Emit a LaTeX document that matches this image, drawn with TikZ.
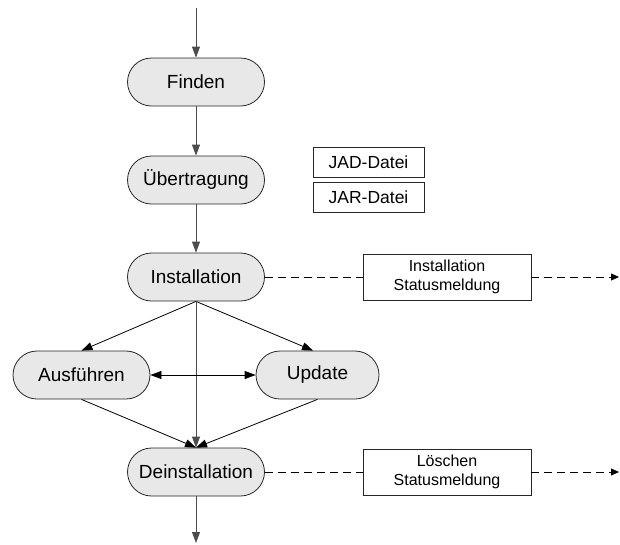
\documentclass[tikz,border=0pt]{standalone}
\usepackage{fontspec}
\setmainfont{Liberation Sans}
\usetikzlibrary{arrows.meta}
\begin{document}
\begin{tikzpicture}[x=1pt,y=-1pt,
  proc/.style={draw=black!85, fill=black!9, line width=0.8pt, rectangle, rounded corners=24pt,
    minimum width=137pt, minimum height=48pt, inner sep=0pt, font=\fontsize{19}{22}\selectfont},
  doc/.style={draw=black!85, fill=white, line width=0.8pt, rectangle, minimum width=111pt,
    minimum height=30pt, inner sep=0pt, font=\fontsize{17.5}{20}\selectfont},
  msg/.style={draw=black!85, fill=white, line width=0.8pt, rectangle, minimum width=168pt,
    minimum height=46pt, inner sep=0pt, align=center, font=\fontsize{16}{19}\selectfont},
  flow/.style={line width=0.8pt, -{Triangle[length=11pt,width=8pt]}},
  gflow/.style={flow, draw=black!70},
  dline/.style={line width=0.8pt, dash pattern=on 8pt off 5pt},
  dflow/.style={dline, -{Triangle[length=8pt,width=7pt]}}
]
\useasboundingbox (0,0) rectangle (620,544);
\node[proc] (find) at (196,82) {Finden};
\node[proc] (uebt) at (196,180) {Übertragung};
\node[proc] (inst) at (196,277) {Installation};
\node[proc] (ausf) at (81.5,375) {Ausführen};
\node[proc, minimum width=123pt] (upd) at (317.5,375) {Update};
\node[proc] (dein) at (196,472) {Deinstallation};
\node[doc] (jad) at (368.5,162) {JAD-Datei};
\node[doc] (jar) at (368.5,197.5) {JAR-Datei};
\node[msg] (imsg) at (447,277) {Installation\\Statusmeldung};
\node[msg] (lmsg) at (447,472) {Löschen\\Statusmeldung};
\coordinate (top) at (196,8);
\coordinate (bot) at (196,543);
\coordinate (iend) at (619,277);
\coordinate (lend) at (619,472);

\draw[gflow] (top) -- (find);
\draw[gflow] (find) -- (uebt);
\draw[gflow] (uebt) -- (inst);
\draw[flow] (inst.south) -- (ausf.north);
\draw[flow] (inst.south) -- (upd.north -| 313,0);
\draw[gflow] (inst.south) -- (dein.north);
\draw[line width=0.8pt, {Triangle[length=11pt,width=8pt]}-{Triangle[length=11pt,width=8pt]}] (ausf.east) -- (upd.west);
\draw[flow] (ausf.south) -- (dein.north);
\draw[flow] (upd.south) -- (dein.north);
\draw[gflow] (dein) -- (bot);
\draw[dline] (inst.east) -- (imsg.west);
\draw[dflow] (imsg.east) -- (iend);
\draw[dline] (dein.east) -- (lmsg.west);
\draw[dflow] (lmsg.east) -- (lend);
\end{tikzpicture}
\end{document}
